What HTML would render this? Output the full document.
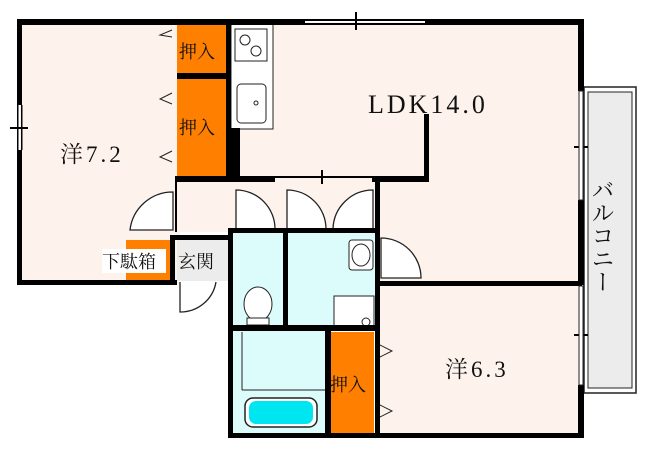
<!DOCTYPE html>
<html><head><meta charset="utf-8"><style>
body{margin:0;background:#fff;width:646px;height:456px;overflow:hidden}
svg{display:block}
text{font-family:"Liberation Serif","Noto Serif CJK SC",serif;fill:#111}
</style></head><body>
<svg width="646" height="456" viewBox="0 0 646 456">
<rect x="20" y="22" width="160" height="262" fill="#fdf3ec"/>
<rect x="230" y="22" width="352" height="160" fill="#fdf3ec"/>
<rect x="375" y="180" width="207" height="255" fill="#fdf3ec"/>
<rect x="177" y="180" width="200" height="52" fill="#fdf3ec"/>
<rect x="584" y="87" width="52" height="306" fill="#fff" stroke="#222" stroke-width="1.5"/>
<rect x="588" y="92" width="44" height="296" fill="#ececec" stroke="#222" stroke-width="1"/>
<rect x="177" y="24" width="49" height="50" fill="#ff7f00"/>
<rect x="177" y="79" width="49" height="97" fill="#ff7f00"/>
<rect x="330" y="332" width="44" height="102" fill="#ff7f00"/>
<rect x="126" y="240" width="44" height="40" fill="#ff7f00"/>
<rect x="231" y="24" width="42" height="105" fill="#fff" stroke="#222"/>
<rect x="235" y="29" width="32" height="32" fill="#fff" stroke="#222"/>
<circle cx="245" cy="40" r="5" fill="none" stroke="#222"/><circle cx="256" cy="51" r="5" fill="none" stroke="#222"/>
<rect x="237" y="84" width="29" height="39" rx="4" fill="#fff" stroke="#222"/>
<circle cx="256" cy="103" r="2" fill="none" stroke="#222"/>
<rect x="177" y="236" width="52" height="45" fill="#ececec"/>
<rect x="232" y="232" width="52" height="96" fill="#dcfcfc"/>
<rect x="287" y="232" width="90" height="96" fill="#dcfcfc"/>
<rect x="232" y="330" width="96" height="104" fill="#dcfcfc"/>
<rect x="245" y="398" width="72" height="29" rx="8" fill="#fff" stroke="#222" stroke-width="1.5"/>
<rect x="249" y="401" width="64" height="23" rx="7" fill="#00e6f0"/>
<line x1="242" y1="390" x2="328" y2="390" stroke="#222"/>
<line x1="242" y1="332" x2="242" y2="390" stroke="#222"/>
<ellipse cx="258" cy="304" rx="14" ry="17" fill="#fff" stroke="#222"/>
<rect x="247" y="318" width="22" height="7" fill="#fff" stroke="#222"/>
<rect x="349" y="240" width="24" height="30" rx="3" fill="#fff" stroke="#222"/>
<ellipse cx="361" cy="255" rx="9" ry="11" fill="none" stroke="#222"/>
<rect x="334" y="296" width="40" height="31" fill="#fff" stroke="#222"/>
<circle cx="366" cy="322" r="4" fill="#fff" stroke="#222"/>
<g fill="#fff" stroke="#222" stroke-width="1.3">
<path d="M173 230 L130 230 A43 43 0 0 1 173 192 Z"/>
<path d="M236 229 L236 190 A39 39 0 0 1 275 229 Z"/>
<path d="M287 229 L287 190 A39 39 0 0 1 326 229 Z"/>
<path d="M373 229 L373 190 A40 40 0 0 0 333 229 Z"/>
<path d="M381 278 L381 238 A40 40 0 0 1 421 278 Z"/>
<path d="M180 282 L180 312 A36 36 0 0 0 216 282"/>
</g>
<g fill="#000">
<rect x="18" y="19" width="287" height="6"/>
<rect x="305" y="19" width="277" height="2"/><rect x="305" y="23" width="277" height="2"/>
<rect x="425" y="19" width="157" height="6"/>
<rect x="355" y="12" width="2" height="18"/>
<rect x="17" y="19" width="5" height="86"/>
<rect x="17" y="150" width="5" height="135"/>
<rect x="17" y="105" width="1.5" height="45"/><rect x="21" y="105" width="1.5" height="45"/>
<rect x="10" y="127" width="18" height="2"/>
<rect x="17" y="280" width="160" height="5"/>
<rect x="170" y="235" width="58" height="5"/>
<rect x="170" y="235" width="5" height="50"/>
<rect x="226" y="22" width="5" height="160"/>
<rect x="177" y="73" width="50" height="6"/>
<rect x="175" y="176" width="100" height="6"/>
<rect x="230" y="128" width="10" height="52"/>
<rect x="275" y="176" width="100" height="2"/>
<rect x="372" y="176" width="56" height="6"/>
<rect x="424" y="114" width="5" height="68"/>
<rect x="321" y="170" width="2" height="14"/>
<rect x="578" y="19" width="6" height="72"/>
<rect x="578" y="200" width="6" height="85"/>
<rect x="578" y="385" width="6" height="53"/>
<rect x="574" y="146" width="14" height="2"/><rect x="574" y="334" width="14" height="2"/>
<rect x="375" y="281" width="207" height="5"/>
<rect x="375" y="176" width="5" height="262"/>
<rect x="228" y="228" width="152" height="5"/>
<rect x="228" y="228" width="5" height="210"/>
<rect x="283" y="228" width="5" height="102"/>
<rect x="228" y="325" width="150" height="6"/>
<rect x="325" y="325" width="6" height="113"/>
<rect x="228" y="433" width="354" height="5"/>
<rect x="175" y="182" width="2" height="50"/>
</g>
<g fill="none" stroke="#222" stroke-width="1">
<rect x="579" y="91" width="4" height="109" fill="#fff"/>
<rect x="579" y="286" width="4" height="99" fill="#fff"/>
<path d="M172 30 L160 35 L172 37 M172 93 L160 99 L172 104 M172 151 L160 157 L172 162"/>
<path d="M380 345 L392 351 L380 357 M380 405 L392 411 L380 417"/>
</g>
<text x="60" y="162" font-size="23" letter-spacing="3">洋7.2</text>
<text x="368" y="113" font-size="26" letter-spacing="3">LDK14.0</text>
<text x="445" y="377" font-size="23" letter-spacing="3">洋6.3</text>
<text x="179" y="58" font-size="18">押入</text>
<text x="179" y="134" font-size="18">押入</text>
<text x="330" y="391" font-size="18">押入</text>
<text x="178" y="268" font-size="18">玄関</text>
<rect x="102" y="249" width="64" height="24" fill="#fff"/>
<text x="102" y="268" font-size="18">下駄箱</text>
<text x="601" y="178" font-size="23" writing-mode="tb">バルコニー</text>
</svg>
</body></html>
